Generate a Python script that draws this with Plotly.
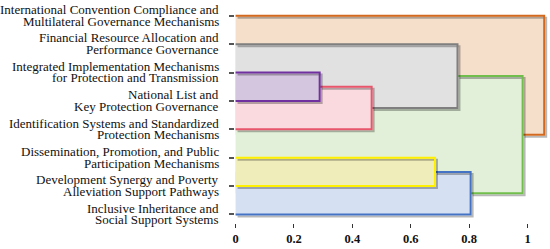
import plotly.graph_objects as go

# ---- data ----
labels = [
    "International Convention Compliance and<br>Multilateral Governance Mechanisms",
    "Financial Resource Allocation and<br>Performance Governance",
    "Integrated Implementation Mechanisms<br>for Protection and Transmission",
    "National List and<br>Key Protection Governance",
    "Identification Systems and Standardized<br>Protection Mechanisms",
    "Dissemination, Promotion, and Public<br>Participation Mechanisms",
    "Development Synergy and Poverty<br>Alleviation Support Pathways",
    "Inclusive Inheritance and<br>Social Support Systems",
]
# merges: (child_a, child_b, height); new node ids start at 8
merge_a = [2, 8, 1, 5, 11, 10, 0]
merge_b = [3, 4, 9, 6, 7, 12, 13]
merge_h = [0.288, 0.466, 0.760, 0.683, 0.805, 0.983, 1.057]
line_colors = ["#7030A0", "#E8566C", "#7F7F7F", "#FFF000", "#4472C4", "#72BE4C", "#D2691E"]
fill_colors = ["#D5C6DF", "#FADADF", "#E1E1E1", "#EFEDBA", "#D6E0F3", "#E2F0D9", "#F5DECA"]
x_ticks = [0, 0.2, 0.4, 0.6, 0.8, 1]
x_ticktext = ["0", "0.2", "0.4", "0.6", "0.8", "1"]

n = len(labels)
pos = {i: float(i) for i in range(n)}
hgt = {i: 0.0 for i in range(n)}
nodes = []
for k, (a, b, h) in enumerate(zip(merge_a, merge_b, merge_h)):
    nid = n + k
    pos[nid] = (pos[a] + pos[b]) / 2
    hgt[nid] = h
    nodes.append((nid, a, b, h, line_colors[k], fill_colors[k]))

fig = go.Figure()
dx, dy = 0.0068, 0.07
# parents first (reverse order)
for nid, a, b, h, lc, fc in reversed(nodes):
    ya, yb = pos[a], pos[b]
    fig.add_trace(go.Scatter(x=[0, h, h, 0, 0], y=[ya, ya, yb, yb, ya], mode="lines",
                             fill="toself", fillcolor=fc, line=dict(width=0),
                             hoverinfo="skip", showlegend=False))
    px = [hgt[a], h, h, hgt[b]]
    py = [ya, ya, yb, yb]
    fig.add_trace(go.Scatter(x=[v + dx for v in px], y=[v + dy for v in py], mode="lines",
                             line=dict(color="rgba(0,0,0,0.28)", width=2),
                             hoverinfo="skip", showlegend=False))
    fig.add_trace(go.Scatter(x=px, y=py, mode="lines", line=dict(color=lc, width=2),
                             hoverinfo="skip", showlegend=False))

# y labels as two-line annotations
for i, lab in enumerate(labels):
    l1, l2 = lab.split("<br>")
    for txt, ys in ((l1, 6.3), (l2, -5.3)):
        fig.add_annotation(x=0, xref="paper", y=i, yref="y", text=txt, showarrow=False,
                           xanchor="right", yanchor="middle", xshift=-14, yshift=ys,
                           font=dict(family="Liberation Serif", size=13, color="#111"))

fig.update_layout(
    width=550, height=249,
    margin=dict(l=235, r=2, t=3, b=26),
    plot_bgcolor="white", paper_bgcolor="white",
    xaxis=dict(range=[-0.002, 1.07], tickvals=x_ticks, ticktext=x_ticktext,
               showgrid=False, zeroline=False, showline=False,
               ticks="outside", ticklen=4, tickwidth=1, tickcolor="#333",
               tickfont=dict(family="Liberation Serif", size=12.5, color="#111", weight="bold")),
    yaxis=dict(range=[7.3, -0.45], tickvals=list(range(n)), showticklabels=False,
               showgrid=False, zeroline=False, showline=False,
               ticks="outside", ticklen=5, tickwidth=2, tickcolor="#555"),
)
fig.write_html("out.html", config={"displayModeBar": False},
               post_script="document.body.style.margin='0';")
